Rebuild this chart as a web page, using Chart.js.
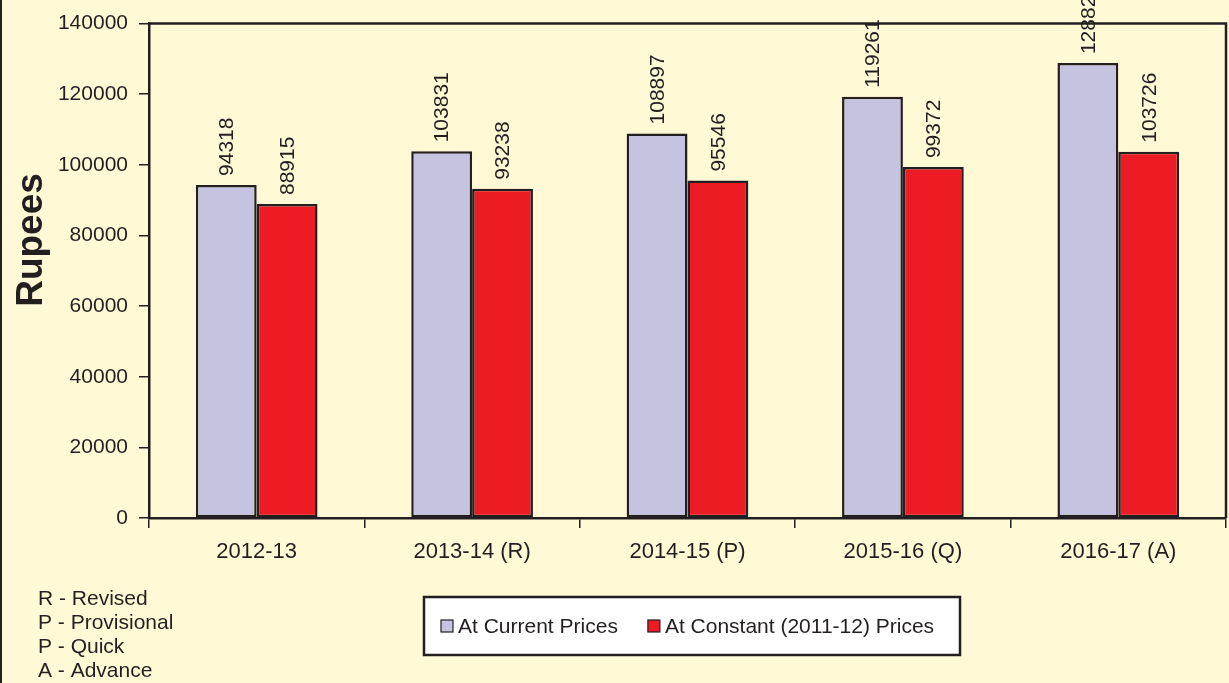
<!DOCTYPE html>
<html>
<head>
<meta charset="utf-8">
<script src="https://cdn.jsdelivr.net/npm/chart.js@4.4.1/dist/chart.umd.min.js"></script>
<style>
html, body { margin: 0; padding: 0; background: #FFF9D5; }
#wrap { width: 1229px; height: 683px; position: relative; }
</style>
</head>
<body>
<div id="wrap"><canvas id="myChart"></canvas></div>
<script>
// data
const categories = ['2012-13', '2013-14 (R)', '2014-15 (P)', '2015-16 (Q)', '2016-17 (A)'];
const currentPrices = [94318, 103831, 108897, 119261, 128821];
const constantPrices = [88915, 93238, 95546, 99372, 103726];
const seriesNames = ['At Current Prices', 'At Constant (2011-12) Prices'];
const yMin = 0, yMax = 140000, yStep = 20000;
const notes = ['R - Revised', 'P - Provisional', 'P - Quick', 'A - Advance'];

const ink = '#231F20';
const font = 'Liberation Sans, Arial, Helvetica, sans-serif';

// value labels, rotated, above each bar
const valueLabels = {
	id: 'valueLabels',
	afterDatasetsDraw(chart) {
		const ctx = chart.ctx;
		ctx.save();
		ctx.fillStyle = ink;
		ctx.font = '21px ' + font;
		chart.data.datasets.forEach((ds, i) => {
			chart.getDatasetMeta(i).data.forEach((bar, j) => {
				ctx.save();
				ctx.translate(bar.x, bar.y - 9);
				ctx.rotate(-Math.PI / 2);
				ctx.textAlign = 'left';
				ctx.textBaseline = 'middle';
				ctx.fillText(String(ds.data[j]), 0, 1);
				ctx.restore();
			});
		});
		ctx.restore();
	}
};

// frame, axis title, legend box and notes
const extras = {
	id: 'extras',
	afterDraw(chart) {
		const ctx = chart.ctx;
		const a = chart.chartArea;
		ctx.save();
		// top + right border of plot
		ctx.strokeStyle = ink;
		ctx.lineWidth = 2.5;
		ctx.beginPath();
		ctx.moveTo(a.left, a.top);
		ctx.lineTo(a.right, a.top);
		ctx.lineTo(a.right, a.bottom);
		ctx.stroke();
		// left image edge
		ctx.fillStyle = ink;
		ctx.fillRect(0, 0, 2, chart.height);

		// y title
		ctx.save();
		ctx.translate(42, 240);
		ctx.rotate(-Math.PI / 2);
		ctx.textAlign = 'center';
		ctx.textBaseline = 'alphabetic';
		ctx.font = 'bold 37px ' + font;
		ctx.fillText('Rupees', 0, 0);
		ctx.restore();

		// legend
		ctx.fillStyle = '#FFFFFF';
		ctx.fillRect(424, 597, 536, 58);
		ctx.strokeStyle = ink;
		ctx.lineWidth = 2.5;
		ctx.strokeRect(424, 597, 536, 58);
		ctx.font = '21px ' + font;
		ctx.textBaseline = 'alphabetic';
		ctx.textAlign = 'left';
		let x = 441;
		chart.data.datasets.forEach(ds => {
			ctx.fillStyle = ds.backgroundColor;
			ctx.fillRect(x, 620, 12, 12);
			ctx.lineWidth = 1.2;
			ctx.strokeStyle = ink;
			ctx.strokeRect(x, 620, 12, 12);
			ctx.fillStyle = ink;
			ctx.fillText(ds.label, x + 17, 633);
			x += 17 + ctx.measureText(ds.label).width + 30;
		});

		// notes
		ctx.font = '21px ' + font;
		notes.forEach((n, i) => ctx.fillText(n, 38, 605 + i * 24));
		ctx.restore();
	}
};

function renderChart() {
	const ctx = document.getElementById('myChart').getContext('2d');
	new Chart(ctx, {
		type: 'bar',
		data: {
			labels: categories,
			datasets: [
				{ label: seriesNames[0], data: currentPrices, backgroundColor: '#C6C3E0', borderColor: ink, borderWidth: 2.5, borderSkipped: false },
				{ label: seriesNames[1], data: constantPrices, backgroundColor: '#ED1C24', borderColor: ink, borderWidth: 2.5, borderSkipped: false }
			]
		},
		options: {
			responsive: true,
			maintainAspectRatio: false,
			animation: false,
			layout: { padding: { left: 0, top: 21, right: 3, bottom: 0 } },
			datasets: { bar: { categoryPercentage: 0.565, barPercentage: 1 } },
			plugins: { legend: { display: false }, tooltip: { enabled: false } },
			scales: {
				x: {
					grid: { offset: true, drawOnChartArea: false, drawTicks: true, tickLength: 10, color: ink, lineWidth: 1.5 },
					border: { display: true, color: ink, width: 2.5 },
					ticks: { color: ink, font: { family: font, size: 22 }, padding: 11, maxRotation: 0 },
					afterFit(s) { s.height = 165; }
				},
				y: {
					min: yMin, max: yMax,
					grid: { drawOnChartArea: false, drawTicks: true, tickLength: 10, color: ink, lineWidth: 1.5 },
					border: { display: true, color: ink, width: 2.5 },
					ticks: { stepSize: yStep, color: ink, font: { family: font, size: 21 }, padding: 11, callback: v => String(v) },
					afterFit(s) { s.width = 149; }
				}
			}
		},
		plugins: [valueLabels, extras]
	});
}
renderChart();
</script>
</body>
</html>
